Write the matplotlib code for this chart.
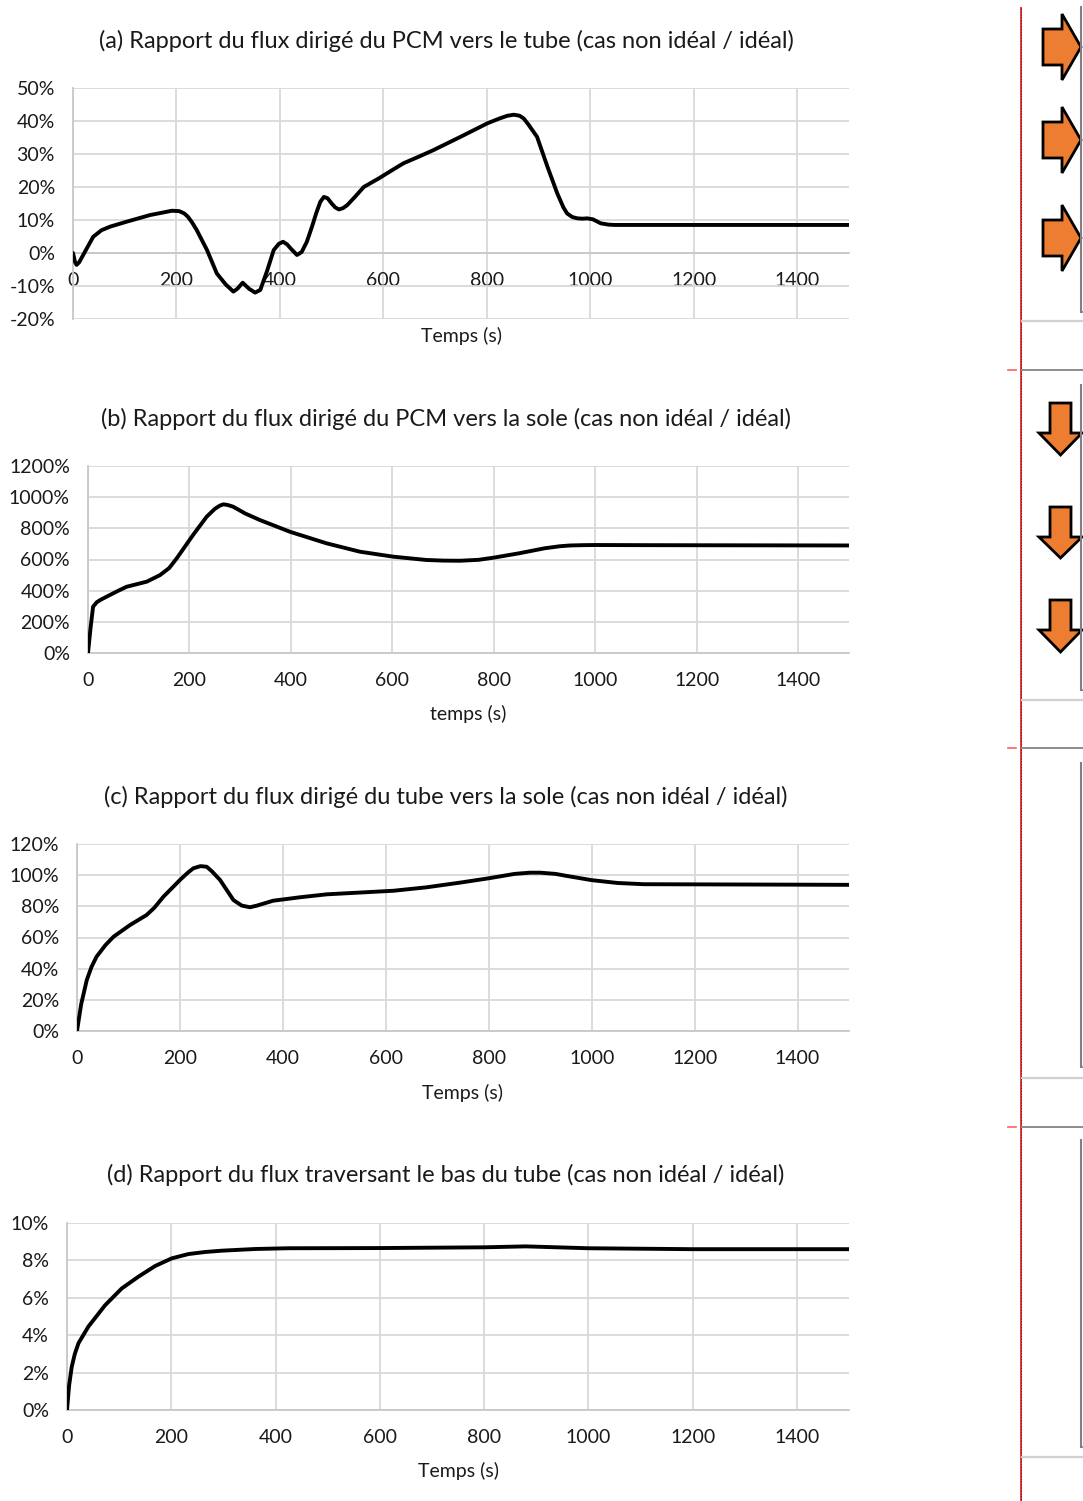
import numpy as np
import matplotlib
matplotlib.use("Agg")
import matplotlib.pyplot as plt
from matplotlib.ticker import PercentFormatter
from matplotlib.patches import Polygon

plt.rcParams['font.family'] = ['Lato', 'DejaVu Sans']
plt.rcParams['axes.unicode_minus'] = False

# (a) flux PCM -> tube, ratio in %
t_a = [0, 4, 7, 12, 20, 39, 55, 72, 104, 149, 175, 191, 205, 215, 222, 230, 239, 259, 278,
       295, 310, 318, 328, 340, 352, 362, 375, 388, 398, 406, 414, 420, 433, 442, 452, 462,
       470, 478, 485, 492, 500, 507, 514, 522, 530, 545, 562, 591, 620, 639, 670, 697, 749,
       801, 825, 840, 852, 863, 871, 880, 897, 917, 936, 948, 955, 965, 975, 985, 994, 1005,
       1020, 1035, 1046, 1100, 1500]
r_a = [0, -2.8, -3.6, -2.8, -0.5, 4.9, 6.9, 8.0, 9.5, 11.5, 12.3, 12.8, 12.7, 12.0, 11.0,
       9.3, 7.0, 0.9, -6.2, -9.5, -11.7, -10.8, -9.0, -10.8, -12.0, -11.2, -5.5, 0.9, 2.8,
       3.4, 2.6, 1.5, -0.6, 0.3, 3.4, 8.0, 12.0, 15.5, 17.0, 16.6, 15.0, 13.8, 13.2, 13.6,
       14.5, 17.0, 20.0, 22.6, 25.4, 27.2, 29.3, 31.2, 35.2, 39.3, 40.8, 41.6, 41.9, 41.6,
       40.8, 39.0, 35.2, 26.2, 18.1, 13.8, 12.0, 10.9, 10.5, 10.4, 10.5, 10.2, 9.0, 8.6,
       8.5, 8.5, 8.5]

# (b) flux PCM -> sole
t_b = [0, 5, 10, 17, 24, 43, 60, 76, 116, 142, 160, 175, 207, 234, 250, 260, 267, 275, 286,
       310, 339, 398, 470, 536, 602, 667, 700, 733, 770, 800, 850, 900, 930, 950, 975, 1000,
       1100, 1500]
r_b = [0, 160, 297, 325, 340, 372, 400, 425, 458, 500, 545, 608, 757, 875, 925, 946, 954,
       950, 939, 895, 853, 778, 704, 650, 618, 597, 593, 592, 598, 612, 640, 672, 685, 690,
       692, 693, 692, 690]

# (c) flux tube -> sole
t_c = [0, 8, 19, 28, 38, 55, 71, 103, 135, 150, 168, 200, 215, 226, 240, 252, 262, 278,
       304, 320, 336, 350, 381, 433, 485, 615, 679, 744, 800, 850, 880, 900, 930, 950, 1000,
       1050, 1100, 1500]
r_c = [0, 17, 32.7, 41, 47.7, 55.0, 60.5, 68.0, 74.4, 79.0, 86.2, 96.9, 101.5, 104.4, 105.8,
       105.4, 102.5, 96.9, 84.0, 80.5, 79.4, 80.5, 83.6, 85.8, 87.7, 90.0, 92.2, 95.2, 98.0,
       100.8, 101.6, 101.6, 100.8, 99.6, 96.8, 95.0, 94.2, 93.8]

# (d) flux bas du tube
t_d = [0, 4, 9, 15, 22, 41, 73, 105, 137, 169, 201, 233, 265, 297, 361, 424, 600, 800, 880,
       1000, 1200, 1500]
r_d = [0, 1.3, 2.3, 3.0, 3.57, 4.46, 5.6, 6.5, 7.13, 7.7, 8.11, 8.34, 8.45, 8.52, 8.61,
       8.65, 8.66, 8.7, 8.75, 8.65, 8.6, 8.6]

titles = ["(a) Rapport du flux dirigé du PCM vers le tube (cas non idéal / idéal)",
          "(b) Rapport du flux dirigé du PCM vers la sole (cas non idéal / idéal)",
          "(c) Rapport du flux dirigé du tube vers la sole (cas non idéal / idéal)",
          "(d) Rapport du flux traversant le bas du tube (cas non idéal / idéal)"]
xlabels = ["Temps (s)", "temps (s)", "Temps (s)", "Temps (s)"]
yticks = [np.arange(-20, 51, 10), np.arange(0, 1201, 200),
          np.arange(0, 121, 20), np.arange(0, 11, 2)]
xticks = np.arange(0, 1401, 200)

W, H = 1083, 1501
fig = plt.figure(figsize=(W / 100, H / 100), dpi=100)

# plot areas in pixels: left, right, top, bottom
boxes = [(73, 849, 88, 319), (88, 849, 466, 653), (77, 849, 844, 1031), (67, 849, 1223, 1410)]
title_y = [41, 419, 797, 1175]
label_y = [336, 714, 1093, 1471]
series = [(t_a, r_a), (t_b, r_b), (t_c, r_c), (t_d, r_d)]

for i in range(4):
    l, r, tp, b = boxes[i]
    ax = fig.add_axes([l / W, 1 - b / H, (r - l) / W, (b - tp) / H])
    t, v = series[i]
    ax.plot(t, v, color='black', lw=2.8, solid_joinstyle='round', solid_capstyle='round', zorder=3)
    ax.set_xlim(0, 1500)
    ax.set_ylim(yticks[i][0], yticks[i][-1])
    ax.set_xticks(xticks)
    ax.set_yticks(yticks[i])
    ax.yaxis.set_major_formatter(PercentFormatter(decimals=0))
    ax.grid(True, color='#D9D9D9', lw=1.3)
    ax.set_axisbelow(True)
    for s in ['top', 'right']:
        ax.spines[s].set_visible(False)
    for s in ['left', 'bottom']:
        ax.spines[s].set_color('#C8C8C8')
        ax.spines[s].set_linewidth(1.3)
    ax.spines['bottom'].set_position(('data', 0))
    ax.tick_params(length=0, labelsize=14, labelcolor='#1a1a1a', pad=13)
    ax.tick_params(axis='x', pad=14)
    ax.text(0.5, -(label_y[i] - b) / (b - tp), xlabels[i], transform=ax.transAxes,
            ha='center', va='center', fontsize=14, color='#1a1a1a')
    fig.text(446 / W, 1 - title_y[i] / H, titles[i], ha='center', va='center',
             fontsize=17, color='#1a1a1a')

# strip on the right side of the page
ov = fig.add_axes([0, 0, 1, 1], zorder=5)
ov.set_xlim(0, W)
ov.set_ylim(H, 0)
ov.axis('off')
ov.patch.set_alpha(0)
ov.plot([1021, 1021], [8, H], color='#FF3030', lw=1.4)
ov.plot([1021, 1021], [8, H], color='#333333', lw=0.7, dashes=(1.5, 1.5))
for y0, y1 in [(7, 312), (385, 690), (763, 1067), (1140, 1447)]:
    ov.plot([1080.5, 1080.5], [y0, y1], color='#808080', lw=1.5)
    ov.plot([1080.5, 1083], [y1, y1], color='#808080', lw=1.2)
for y in [321, 700, 1078, 1457]:
    ov.plot([1022, 1083], [y, y], color='#D0D0D0', lw=1.6)
for y in [370, 748, 1127]:
    ov.plot([1022, 1083], [y, y], color='#8C8C8C', lw=1.4)
    ov.plot([1008, 1016], [y, y], color='#FF6060', lw=1.2)

orange = '#ED7D31'
for yc in [47, 140, 238]:
    pts = [(1043, yc - 18), (1062, yc - 18), (1062, yc - 33), (1081, yc),
           (1062, yc + 33), (1062, yc + 18), (1043, yc + 18)]
    ov.add_patch(Polygon(pts, closed=True, fc=orange, ec='black', lw=2, joinstyle='miter'))
for ytop, ytip in [(403, 455), (507, 558), (600, 652)]:
    pts = [(1050, ytop), (1071, ytop), (1071, ytop + 30), (1082, ytop + 30), (1060.5, ytip),
           (1039, ytop + 30), (1050, ytop + 30)]
    ov.add_patch(Polygon(pts, closed=True, fc=orange, ec='black', lw=2, joinstyle='miter'))

fig.savefig('out.png', dpi=100)
